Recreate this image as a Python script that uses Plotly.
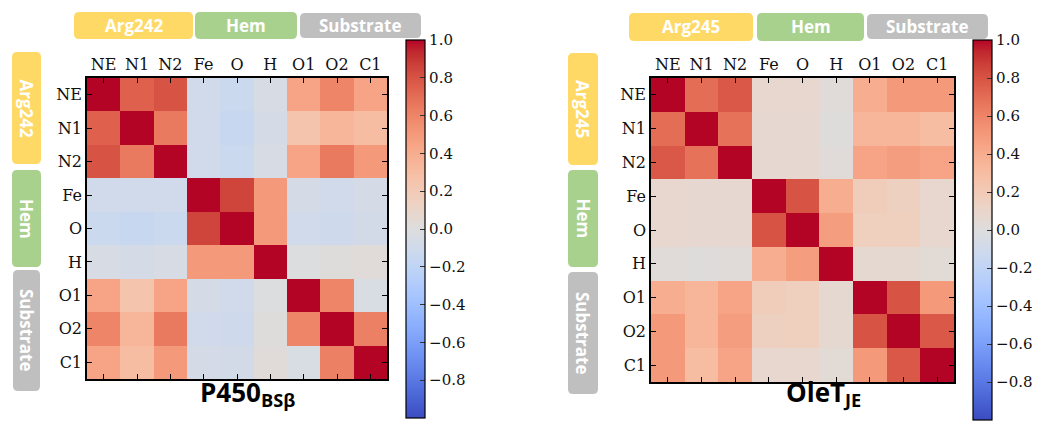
import plotly.graph_objects as go

# page size and browser body margin
PAGE_W, PAGE_H = 1040, 424
OFF = 8
W, H = PAGE_W - OFF, PAGE_H - OFF

atoms = ["NE", "N1", "N2", "Fe", "O", "H", "O1", "O2", "C1"]

corr_p450 = [
    [1.00, 0.75, 0.80, -0.10, -0.13, -0.05, 0.45, 0.60, 0.45],
    [0.75, 1.00, 0.65, -0.10, -0.15, -0.06, 0.25, 0.35, 0.30],
    [0.80, 0.65, 1.00, -0.10, -0.13, -0.05, 0.45, 0.65, 0.50],
    [-0.10, -0.10, -0.10, 1.00, 0.85, 0.50, -0.07, -0.09, -0.06],
    [-0.13, -0.15, -0.13, 0.85, 1.00, 0.50, -0.09, -0.11, -0.08],
    [-0.05, -0.06, -0.05, 0.50, 0.50, 1.00, -0.01, 0.01, 0.02],
    [0.45, 0.25, 0.45, -0.07, -0.09, -0.01, 1.00, 0.60, -0.04],
    [0.60, 0.35, 0.65, -0.09, -0.11, 0.01, 0.60, 1.00, 0.62],
    [0.45, 0.30, 0.50, -0.06, -0.08, 0.02, -0.04, 0.62, 1.00],
]

corr_olet = [
    [1.00, 0.70, 0.78, 0.08, 0.08, 0.02, 0.40, 0.50, 0.50],
    [0.70, 1.00, 0.68, 0.07, 0.07, 0.01, 0.35, 0.35, 0.30],
    [0.78, 0.68, 1.00, 0.07, 0.07, 0.02, 0.45, 0.48, 0.45],
    [0.08, 0.07, 0.07, 1.00, 0.80, 0.40, 0.18, 0.15, 0.08],
    [0.08, 0.07, 0.07, 0.80, 1.00, 0.48, 0.16, 0.16, 0.08],
    [0.02, 0.01, 0.02, 0.40, 0.48, 1.00, 0.06, 0.06, 0.04],
    [0.40, 0.35, 0.45, 0.18, 0.16, 0.06, 1.00, 0.80, 0.50],
    [0.50, 0.35, 0.48, 0.15, 0.16, 0.06, 0.80, 1.00, 0.78],
    [0.50, 0.30, 0.45, 0.08, 0.08, 0.04, 0.50, 0.78, 1.00],
]

cbar_ticks = [-1.0, -0.8, -0.6, -0.4, -0.2, 0.0, 0.2, 0.4, 0.6, 0.8, 1.0]

groups_left = ["Arg242", "Hem", "Substrate"]
groups_right = ["Arg245", "Hem", "Substrate"]
group_colors = ["#FFD966", "#A9D18E", "#BFBFBF"]

# matplotlib coolwarm
_cw = [
    [0.2298057, 0.298717966, 0.753683153], [0.26623388, 0.353094838, 0.801466763],
    [0.30386891, 0.406535296, 0.84495867], [0.342804478, 0.458757618, 0.883725899],
    [0.38301334, 0.50941904, 0.917387822], [0.424369608, 0.558148092, 0.945619588],
    [0.46666708, 0.604562568, 0.968154911], [0.509635204, 0.648280772, 0.98478814],
    [0.552953156, 0.688929332, 0.995375608], [0.596262162, 0.726149107, 0.999836203],
    [0.639176211, 0.759599947, 0.998151185], [0.681291281, 0.788964712, 0.990363227],
    [0.722193294, 0.813952739, 0.976574709], [0.761464949, 0.834302879, 0.956945269],
    [0.798691636, 0.849786142, 0.931688648], [0.833466556, 0.860207984, 0.901068838],
    [0.865395197, 0.86541021, 0.865395561], [0.897787179, 0.848937047, 0.820880546],
    [0.924127593, 0.827384882, 0.774508472], [0.944468518, 0.800927443, 0.726736146],
    [0.958852946, 0.769767752, 0.678007945], [0.96732803, 0.734132809, 0.628751763],
    [0.969954137, 0.694266682, 0.579375448], [0.966811177, 0.650421156, 0.530263762],
    [0.958003065, 0.602842431, 0.481775914], [0.943660866, 0.551750968, 0.434243684],
    [0.923944917, 0.49730856, 0.387970225], [0.89904617, 0.439559467, 0.343229596],
    [0.869186849, 0.378313092, 0.300267182], [0.834620542, 0.312874446, 0.259301199],
    [0.795631745, 0.24128379, 0.220525627], [0.752534934, 0.157246067, 0.184115123],
    [0.705673158, 0.01555616, 0.150232812],
]
coolwarm = [[i / (len(_cw) - 1), "rgb(%d,%d,%d)" % tuple(round(c * 255) for c in rgb)]
            for i, rgb in enumerate(_cw)]


def fx(x):
    return (x - OFF) / W


def fy(y):
    return 1 - (y - OFF) / H


def rounded_path(x0, y0, x1, y1, r=5):
    pts = [
        "M %f,%f" % (fx(x0 + r), fy(y0)),
        "L %f,%f" % (fx(x1 - r), fy(y0)),
        "Q %f,%f %f,%f" % (fx(x1), fy(y0), fx(x1), fy(y0 + r)),
        "L %f,%f" % (fx(x1), fy(y1 - r)),
        "Q %f,%f %f,%f" % (fx(x1), fy(y1), fx(x1 - r), fy(y1)),
        "L %f,%f" % (fx(x0 + r), fy(y1)),
        "Q %f,%f %f,%f" % (fx(x0), fy(y1), fx(x0), fy(y1 - r)),
        "L %f,%f" % (fx(x0), fy(y0 + r)),
        "Q %f,%f %f,%f" % (fx(x0), fy(y0), fx(x0 + r), fy(y0)),
        "Z",
    ]
    return " ".join(pts)


serif = "DejaVu Serif"
sans = "Open Sans"

panels = [
    dict(z=corr_p450, groups=groups_left, xd=(87, 387), yd=(78, 379), cbx=406, cby=(40, 418),
         top=[(74, 12, 193, 39), (195, 12, 297, 39), (300, 13, 421, 38)],
         side=[(12, 52, 41, 164), (12, 170, 41, 267), (13, 270, 40, 391)],
         title="<b>P450<sub>BSβ</sub></b>", tx=247),
    dict(z=corr_olet, groups=groups_right, xd=(651, 954), yd=(78, 382), cbx=973, cby=(40, 420),
         top=[(629, 13, 753, 41), (757, 13, 864, 41), (867, 14, 988, 39)],
         side=[(568, 53, 598, 165), (568, 170, 598, 267), (568, 272, 598, 394)],
         title="<b>OleT<sub>JE</sub></b>", tx=823),
]

fig = go.Figure()
shapes = []
annotations = []
layout_axes = {}

for i, p in enumerate(panels):
    xa = "x" if i == 0 else "x2"
    ya = "y" if i == 0 else "y2"
    cb_len = (p["cby"][1] - p["cby"][0]) / H
    cb_y = fy((p["cby"][0] + p["cby"][1]) / 2)
    fig.add_trace(go.Heatmap(
        z=p["z"], x=atoms, y=atoms, zmin=-1, zmax=1, colorscale=coolwarm,
        xaxis=xa, yaxis=ya,
        colorbar=dict(
            x=fx(p["cbx"]), xanchor="left", xpad=0, ypad=0,
            y=cb_y, yanchor="middle", len=cb_len, lenmode="fraction",
            thickness=19, thicknessmode="pixels",
            outlinewidth=1.2, outlinecolor="black",
            tickmode="array", tickvals=cbar_ticks,
            ticktext=[("%.1f" % v).replace("-", "\u2212") for v in cbar_ticks],
            ticks="inside", ticklen=5, tickcolor="#333",
            tickfont=dict(family=serif, size=15, color="#111"),
        ),
    ))
    axn = "" if i == 0 else "2"
    layout_axes["xaxis" + axn] = dict(
        domain=[fx(p["xd"][0]), fx(p["xd"][1])], anchor=ya, side="top",
        ticks="inside", ticklen=5, tickcolor="black", tickwidth=1,
        showline=True, linecolor="black", linewidth=1.5, mirror="ticks",
        tickfont=dict(family=serif, size=16, color="#111"), showgrid=False, zeroline=False,
    )
    layout_axes["yaxis" + axn] = dict(
        domain=[fy(p["yd"][1]), fy(p["yd"][0])], anchor=xa, autorange="reversed",
        ticks="inside", ticklen=5, tickcolor="black", tickwidth=1,
        showline=True, linecolor="black", linewidth=1.5, mirror="ticks",
        tickfont=dict(family=serif, size=16, color="#111"), showgrid=False, zeroline=False,
    )
    for name, col, (x0, y0, x1, y1) in zip(p["groups"], group_colors, p["top"]):
        shapes.append(dict(type="path", path=rounded_path(x0, y0, x1, y1), xref="paper", yref="paper",
                           fillcolor=col, line=dict(width=0), layer="below"))
        annotations.append(dict(text="<b>%s</b>" % name, x=fx((x0 + x1) / 2), y=fy((y0 + y1) / 2),
                                xref="paper", yref="paper", showarrow=False,
                                xanchor="center", yanchor="middle",
                                font=dict(family=sans, size=17, color="white")))
    for name, col, (x0, y0, x1, y1) in zip(p["groups"], group_colors, p["side"]):
        shapes.append(dict(type="path", path=rounded_path(x0, y0, x1, y1), xref="paper", yref="paper",
                           fillcolor=col, line=dict(width=0), layer="below"))
        annotations.append(dict(text="<b>%s</b>" % name, x=fx((x0 + x1) / 2), y=fy((y0 + y1) / 2),
                                xref="paper", yref="paper", showarrow=False, textangle=90,
                                xanchor="center", yanchor="middle",
                                font=dict(family=sans, size=17, color="white")))
    annotations.append(dict(text=p["title"], x=fx(p["tx"]), y=fy(393), xref="paper", yref="paper",
                            showarrow=False, xanchor="center", yanchor="middle",
                            font=dict(family=sans, size=26, color="black")))

fig.update_layout(
    width=W, height=H, margin=dict(l=0, r=0, t=0, b=0),
    paper_bgcolor="white", plot_bgcolor="white",
    shapes=shapes, annotations=annotations, showlegend=False,
    **layout_axes,
)

fig.write_html("out.html")
